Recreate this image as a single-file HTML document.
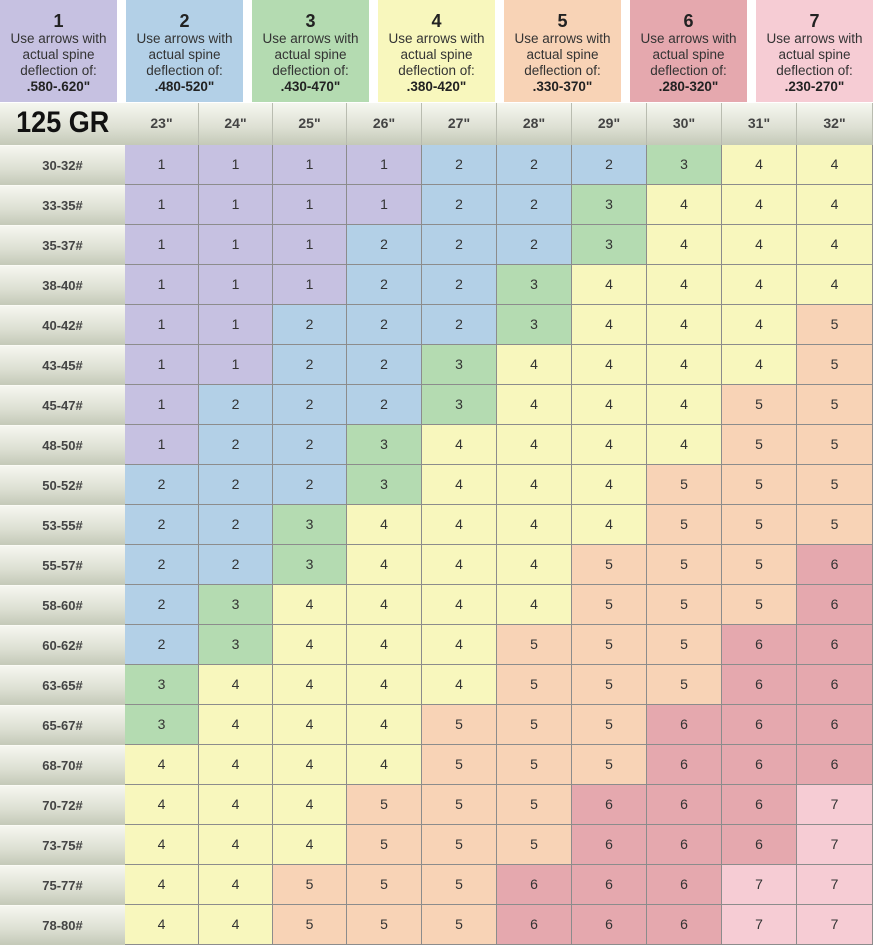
<!DOCTYPE html>
<html><head><meta charset="utf-8"><style>
body{margin:0;width:873px;height:946px;background:#fff;position:relative;overflow:hidden;font-family:"Liberation Sans",Arial,sans-serif}
.hb{position:absolute;top:0;width:117px;height:102px;text-align:center;color:#333;font-size:13.5px;line-height:16px}
.hb b.n{display:block;font-size:18px;line-height:20px;margin-top:11px;color:#222}
.hb b.v{color:#222}
.c{position:absolute;box-sizing:border-box;border-right:1px solid #8c8c8c;border-bottom:1px solid #8c8c8c;text-align:center;font-size:14px;color:#333;line-height:39px;height:40px}
.l{position:absolute;left:0;width:125px;height:40px;box-sizing:border-box;border-top:1px solid #fbfbf6;background:linear-gradient(#f6f7f0,#dcdfd2 60%,#c4c9b8);text-align:center;font-weight:bold;font-size:13px;color:#444;line-height:39px}
.h{position:absolute;top:103px;height:42px;box-sizing:border-box;border-right:1px solid #b9bcb0;background:linear-gradient(#f6f7f0,#dcdfd2 60%,#c4c9b8);text-align:center;font-weight:bold;font-size:14px;color:#444;line-height:40px}
.k1{background:#c6c1e1}.k2{background:#b3d0e7}.k3{background:#b4dbb1}.k4{background:#f8f7bd}.k5{background:#f8d3b6}.k6{background:#e5a8ae}.k7{background:#f6ccd4}
</style></head><body>
<div class="hb k1" style="left:0"><b class="n">1</b>Use arrows with<br>actual spine<br>deflection of:<br><b class="v">.580-.620"</b></div>
<div class="hb k2" style="left:126px"><b class="n">2</b>Use arrows with<br>actual spine<br>deflection of:<br><b class="v">.480-520"</b></div>
<div class="hb k3" style="left:252px"><b class="n">3</b>Use arrows with<br>actual spine<br>deflection of:<br><b class="v">.430-470"</b></div>
<div class="hb k4" style="left:378px"><b class="n">4</b>Use arrows with<br>actual spine<br>deflection of:<br><b class="v">.380-420"</b></div>
<div class="hb k5" style="left:504px"><b class="n">5</b>Use arrows with<br>actual spine<br>deflection of:<br><b class="v">.330-370"</b></div>
<div class="hb k6" style="left:630px"><b class="n">6</b>Use arrows with<br>actual spine<br>deflection of:<br><b class="v">.280-320"</b></div>
<div class="hb k7" style="left:756px"><b class="n">7</b>Use arrows with<br>actual spine<br>deflection of:<br><b class="v">.230-270"</b></div>
<div class="h" style="left:0;width:125px;font-size:30px;color:#111;border-right:none"><span style="display:inline-block;transform:scaleX(0.9)">125 GR</span></div>
<div id="g"></div>
<script>
var xs=[125,199,273,347,422,497,572,647,722,797,873];
var hs=['23"','24"','25"','26"','27"','28"','29"','30"','31"','32"'];
var labs=["30-32#","33-35#","35-37#","38-40#","40-42#","43-45#","45-47#","48-50#","50-52#","53-55#","55-57#","58-60#","60-62#","63-65#","65-67#","68-70#","70-72#","73-75#","75-77#","78-80#"];
var d=["1111222344","1111223444","1112223444","1112234444","1122234445","1122344445","1222344455","1223444455","2223444555","2234444555","2234445556","2344445556","2344455566","3444455566","3444555666","4444555666","4445556667","4445556667","4455566677","4455566677"];
var h="";
for(var j=0;j<10;j++)h+='<div class="h" style="left:'+xs[j]+'px;width:'+(xs[j+1]-xs[j])+'px">'+hs[j]+'</div>';
for(var i=0;i<20;i++){var y=145+40*i;
h+='<div class="l" style="top:'+y+'px">'+labs[i]+'</div>';
for(var j=0;j<10;j++){var v=d[i][j];
h+='<div class="c k'+v+'" style="left:'+xs[j]+'px;top:'+y+'px;width:'+(xs[j+1]-xs[j])+'px">'+v+'</div>';}}
document.getElementById("g").innerHTML=h;
</script>
</body></html>
